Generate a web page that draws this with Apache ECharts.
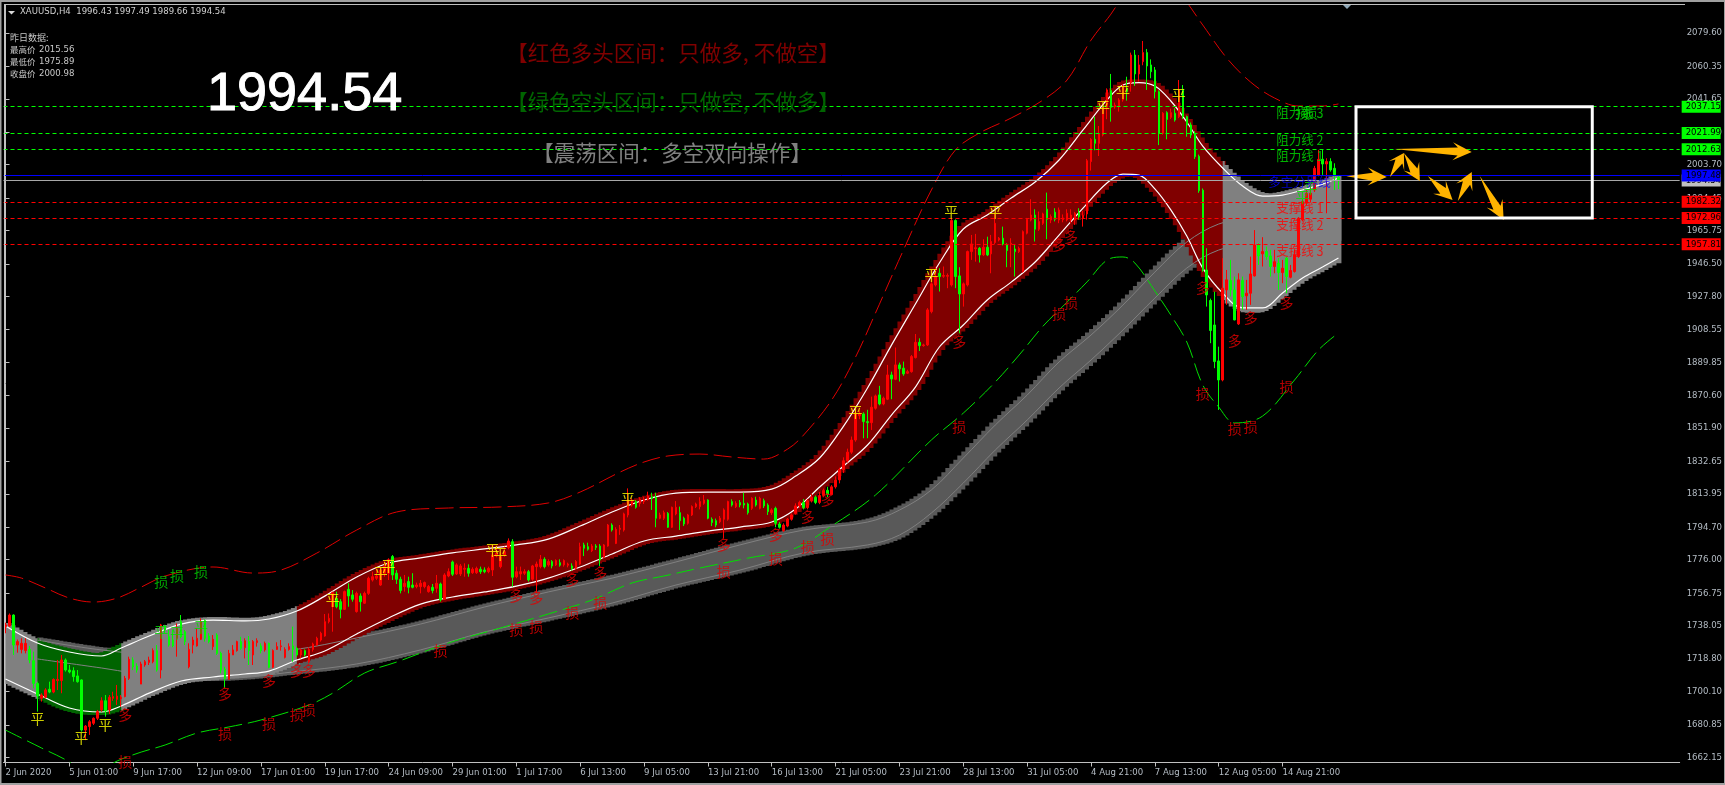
<!DOCTYPE html>
<html><head><meta charset="utf-8">
<style>html,body{margin:0;padding:0;background:#000}#c{width:1725px;height:785px}</style>
<script src="https://cdn.jsdelivr.net/npm/echarts@6/dist/echarts.min.js"></script>
</head><body><div id="c"></div>
<script>
// [open, close, low, high]
const ohlc = [
[1737.4,1738.4,1733.6,1739.7],[1737.8,1744.1,1737.4,1745],[1744.1,1726.8,1721.1,1744.5],[1726.8,1728.8,1722.4,1730],[1724.3,1727.8,1722,1730.7],[1723.6,1727.8,1722,1730.7],[1724.3,1718.2,1716.3,1726.3],[1717.8,1704.7,1701.9,1723],[1704.7,1697.4,1688.4,1705.7],[1696.1,1698,1694.2,1699],
[1696.7,1700.9,1696.1,1701.9],[1701.3,1699.7,1699,1705.7],[1699.7,1707,1699,1707.6],[1706.3,1707,1700.9,1718.2],[1706.3,1718.2,1699,1721.1],[1718.2,1712.4,1711.5,1719.1],[1712.4,1711.3,1710.5,1715.3],[1712,1708.6,1705.7,1714],[1709,1705.7,1705.1,1712.4],[1706.7,1677.8,1676.9,1707],
[1677.8,1680.1,1672,1680.7],[1679.8,1682.6,1675,1683.6],[1681.7,1684.6,1680.7,1685.1],[1684.6,1688.4,1683.6,1689.4],[1689.4,1694.7,1688.4,1696.7],[1694.7,1688.8,1685.5,1698],[1689.4,1696.7,1687.1,1698],[1696.1,1697.1,1694.7,1699.9],[1695.5,1697.4,1692.3,1703.8],[1695.9,1696.7,1691.3,1698],
[1697.1,1707.6,1696.7,1709],[1707.6,1718.6,1706.7,1720.1],[1718.2,1714.3,1712.4,1719.7],[1714.7,1712.4,1710.9,1716.3],[1704.3,1715.9,1704.3,1717.2],[1715.3,1717.2,1714.3,1718.2],[1716.8,1718.2,1715.3,1720.1],[1717.2,1723.6,1716.3,1724.9],[1723.6,1712.4,1711.5,1726.8],[1712.4,1738.4,1707.6,1739],
[1737.8,1735.5,1733.6,1738.4],[1731.6,1726.8,1725.9,1735.5],[1729.7,1726.3,1725.5,1735.5],[1730.7,1736.4,1720.1,1739.3],[1740.3,1731.6,1730.7,1744.1],[1734.5,1728.8,1726.8,1735.5],[1714.3,1724.3,1713.4,1727.8],[1726.8,1729.7,1722,1731.6],[1726.3,1730.7,1725.9,1736.4],[1730.1,1740.3,1729.7,1742.2],
[1740.9,1730.7,1728.8,1741.6],[1732,1728.8,1727.8,1733.6],[1725.9,1730.1,1724,1732.6],[1732.6,1722,1721.1,1733.6],[1722,1712.4,1710.5,1723],[1712.8,1707.6,1701.9,1714.3],[1707,1722,1706.7,1724],[1721.1,1724,1721.1,1726.8],[1723.6,1728.8,1723,1729.3],[1728.8,1724.9,1724,1731.6],
[1725.3,1729.3,1719.1,1730.7],[1728.8,1723.6,1715.3,1732],[1721.1,1728.8,1715.3,1729.7],[1728.2,1729.3,1725.9,1730.7],[1726.3,1723.6,1722,1727.8],[1724,1727.8,1723,1728.8],[1727.8,1714,1713.4,1728.2],[1714,1723.6,1713.4,1724.3],[1724.3,1725.9,1724,1728.4],[1725.9,1726.3,1723.6,1729.7],
[1719.7,1724.3,1719.1,1725.5],[1724.3,1725.9,1723.6,1727.8],[1726.3,1724.3,1717.2,1737.4],[1724.9,1721.1,1720.1,1725.9],[1721.1,1724,1719.1,1724.9],[1723.6,1721.1,1720.1,1724.3],[1717.2,1724.3,1716.3,1725.5],[1724.3,1727.4,1723,1728.2],[1726.8,1730.7,1726.3,1731.6],[1729.7,1733.6,1728.8,1734.5],
[1732,1740.3,1731.6,1744.7],[1740.3,1742.2,1739.3,1745],[1748.9,1757,1734.5,1757.6],[1753.7,1748.9,1748,1757.6],[1751.8,1747.4,1742.2,1753.3],[1747.4,1757.6,1747,1758.2],[1758.9,1755.1,1748.9,1762.4],[1755.7,1753.2,1751.8,1758.5],[1746.1,1756.6,1745.5,1757.6],[1755.1,1751.8,1746.1,1756.6],
[1750.9,1756.6,1750.5,1757.6],[1756.6,1765.3,1755.7,1766.2],[1764.3,1766.2,1763.4,1769.1],[1765.3,1766.6,1764.3,1771],[1761.4,1770,1760.9,1772],[1768.2,1772,1766.2,1775],[1768.2,1775.8,1764.3,1776.8],[1777.8,1767.2,1764.3,1778.7],[1768.2,1764.7,1762,1770],[1764.7,1758.2,1756.6,1766.2],
[1760.5,1762.4,1757.6,1767.2],[1763.4,1760.1,1756.6,1766.2],[1761.4,1760.1,1759.5,1768.2],[1760.5,1761.4,1759.5,1762.8],[1760.5,1762.4,1756.6,1764.3],[1760.5,1762.8,1759.5,1763.4],[1757.6,1760.5,1757,1761.4],[1760.1,1758.2,1756.6,1762],[1759.5,1762.4,1757,1767.2],[1762,1752.8,1751.8,1762.8],
[1753.2,1767.2,1752.8,1768.2],[1766.6,1769.1,1765.9,1771],[1774.7,1767.6,1766.6,1775.5],[1767.8,1773,1767.2,1773.9],[1767.8,1772.4,1766.6,1773.5],[1770.5,1771,1766.2,1773.9],[1771,1768.2,1766.2,1773.3],[1768.5,1770.5,1767.8,1771.6],[1768.5,1771,1767.8,1772],[1770.5,1769.1,1767.8,1772],
[1770.1,1769.1,1768.2,1771.6],[1769.1,1771,1768.2,1772],[1770.1,1778.7,1766.6,1784.5],[1778.1,1779.7,1777.4,1783.5],[1772,1777.8,1771,1780.6],[1778.7,1780.6,1777.8,1783.5],[1783.1,1786.8,1782,1788.3],[1786.4,1765.9,1760.5,1787.8],[1766.2,1769.1,1765.3,1772],[1767.8,1769.1,1764.3,1772],
[1768.2,1769.1,1767.2,1770.5],[1769.1,1764.3,1763.4,1770.1],[1764.7,1772.4,1763.9,1773],[1772,1773.5,1756.6,1774.9],[1772,1776.2,1771,1778.7],[1776.2,1772,1771,1777.4],[1773,1774.9,1772,1776.2],[1774.9,1772.4,1771,1775.8],[1773,1775.5,1772.4,1776.2],[1774.3,1772.8,1772,1776.2],
[1773,1775.5,1772,1776.2],[1772.8,1773.5,1771.6,1774.3],[1772.4,1770.9,1769.7,1773.9],[1771,1774.9,1770.1,1775.8],[1773.5,1783.5,1773,1785.8],[1784.5,1782.6,1778.1,1785.8],[1783.5,1782,1781.2,1785.8],[1781.2,1783.9,1780.4,1785],[1783.9,1783.1,1781.6,1785],[1783.9,1775.8,1772.4,1785],
[1777.4,1784.5,1776.8,1785],[1783.9,1796,1783.5,1796.6],[1796,1793.1,1792.2,1797],[1785.4,1793.5,1785,1794.7],[1793.5,1794.1,1790.3,1796],[1793.1,1802.4,1792.2,1803.1],[1801.8,1810.4,1800.4,1817.1],[1807.5,1810,1806.6,1811.4],[1809.5,1806.2,1805.4,1810.4],[1808.5,1810.8,1806.6,1812],
[1809.5,1810.8,1808.1,1812.3],[1810.8,1812.7,1810,1815.2],[1812.3,1811.4,1804.7,1814.6],[1812,1799.9,1794.7,1814.6],[1799.9,1801.8,1799.3,1803.1],[1799.9,1803.1,1798.9,1804.3],[1802.7,1794.7,1794.3,1803.5],[1794.7,1806.2,1794.3,1806.6],[1802.4,1806.2,1801.6,1809.8],[1803.1,1798.5,1793.1,1806.6],
[1799.9,1796.6,1795.4,1800.8],[1797,1801.8,1796.2,1802.4],[1801.8,1806.6,1801.2,1807.3],[1806.6,1808.1,1805.8,1808.9],[1806.6,1809.5,1805,1812],[1808.5,1810.4,1807.7,1813.3],[1810.4,1799.9,1799.3,1810.8],[1799.3,1797.4,1795.4,1800.4],[1798.5,1796,1794.7,1799.7],[1797.9,1799.9,1797,1801.2],
[1799.3,1804.7,1788.3,1805.6],[1799.3,1809.5,1798.5,1810],[1809.5,1807.5,1806.6,1810.8],[1806.6,1808.5,1805.8,1809.7],[1808.9,1807.5,1806.2,1810.4],[1808.5,1807.5,1805.6,1814.6],[1808.1,1803.1,1802,1808.9],[1805.6,1811.4,1804.7,1812],[1810.4,1807.5,1806.6,1812.3],[1805.6,1811.4,1805,1812.3],
[1810,1807,1805.8,1811.2],[1807.5,1803.7,1801.8,1808.5],[1803.1,1804.7,1801.8,1805.6],[1805.6,1797,1794.7,1806.6],[1796.6,1794.7,1793.9,1797.7],[1792.8,1796,1792,1797],[1795.4,1799.3,1794.7,1800],[1799.3,1801.8,1798.5,1802.7],[1802.7,1807,1802,1808.5],[1807,1809,1806,1810],
[1809,1806,1805,1811],[1806,1810,1805,1811],[1810,1812,1809,1814],[1812,1809,1808,1813],[1809,1813,1808,1815],[1813,1816,1812,1817],[1816,1813.5,1812,1818],[1813.5,1818,1813,1819],[1818,1822,1817,1824],[1822,1828,1820,1829],
[1828,1833,1826,1835],[1833,1838,1832,1840],[1838,1845,1837,1847],[1845,1860.4,1844,1862],[1859,1860,1857,1862],[1860,1855.6,1846,1861],[1855.6,1855,1846,1862.4],[1855,1863.9,1850.8,1870],[1863.3,1870.4,1862.5,1871.2],[1871,1865.8,1865,1876.2],
[1865.8,1869.1,1865,1870],[1868.5,1882.5,1868,1888.3],[1882.5,1880.2,1868.5,1884.4],[1880,1888.3,1879.5,1898.3],[1888.3,1886,1878.7,1889.6],[1886.4,1883.1,1882,1890.2],[1883.5,1884.4,1883,1885.5],[1884.4,1893.1,1883.8,1894],[1892.5,1901.3,1892,1906.1],[1901.3,1899.4,1896.3,1903.6],
[1899.4,1899.8,1898.8,1900.5],[1899.8,1920,1899.2,1921],[1919,1935,1918,1936],[1934.4,1939.2,1933.5,1944.6],[1941.1,1939.2,1930.6,1944],[1939.4,1939.8,1938.5,1945],[1939.4,1939.8,1932.5,1941],[1934.4,1971.5,1933.5,1973],[1971.5,1939.2,1932.5,1972.2],[1939.6,1929.2,1906.5,1944.6],
[1929.2,1935,1921.9,1935.8],[1934.4,1953.6,1933.5,1954.2],[1953.6,1958,1948.8,1963.2],[1955.3,1955.8,1947.8,1963.8],[1955.5,1951.7,1947.3,1956.2],[1951.7,1956.1,1951,1960.7],[1956.1,1951.7,1951,1962.2],[1952.3,1959.4,1941.1,1963.2],[1958.8,1969.9,1958,1975.7],[1960.3,1961.3,1959.5,1962],
[1961.3,1958,1957.2,1968],[1957.4,1954.2,1944.6,1958.4],[1958,1958.4,1944.6,1961.3],[1955.1,1953.6,1939.2,1958],[1953.6,1955.5,1952.8,1956.5],[1942.1,1965.1,1941.5,1965.8],[1964.2,1972.2,1963.5,1973],[1971.8,1974.7,1971,1983.8],[1974.7,1966.5,1959.4,1978],[1966.5,1970.9,1965.5,1976.7],
[1969.9,1975.3,1969,1976],[1978,1972.2,1960.7,1987.6],[1971.8,1973.8,1970,1975],[1976.3,1972.2,1971,1978.6],[1971.8,1977.6,1970,1979],[1972,1973,1970.5,1975],[1971.8,1975.7,1971,1978],[1971.8,1974.7,1970,1978],[1971.8,1975.7,1969,1976.5],[1976,1973.8,1972,1978.6],
[1973,1974.5,1968,1977],[1975.3,2006,1972,2007],[2005.5,2018.3,2000.3,2019],[2018.3,2016,2012,2031.4],[2016,2021.4,2008.7,2026],[2020.8,2036.8,2020,2037.5],[2036.8,2046.8,2029.9,2047.7],[2046.4,2036.8,2028.5,2056],[2037,2038,2036,2039.5],[2037.1,2041,2034.3,2042],
[2041,2048.7,2040,2050],[2047.7,2045.8,2040.6,2054.4],[2051,2066.9,2045.8,2068.3],[2066.9,2056,2049.1,2069.8],[2056,2061.2,2051.6,2066.9],[2063.1,2068.3,2061,2075],[2068.3,2060.6,2046.8,2070.4],[2061.2,2057.3,2053.5,2064.4],[2058.3,2045.8,2041.9,2060],[2045.8,2021.8,2015,2046.5],
[2021.8,2033.3,2021,2034],[2033.7,2029.8,2018.3,2034.5],[2031,2033.7,2030,2036],[2033.3,2029.4,2028.5,2036.2],[2031.4,2046.7,2030.5,2052.5],[2047.1,2031.4,2030,2049.6],[2031.4,2026.6,2019.8,2032],[2026.6,2020.8,2019,2028],[2021.8,2008.3,2007,2023],[2008.5,1988.7,1987.5,2009.5],
[1989,1943,1942,1990],[1943,1928.6,1921.9,1955.5],[1925.4,1908.1,1900.8,1926.5],[1911.3,1890.2,1886.4,1930.5],[1890.6,1879.6,1862.3,1898.8],[1879.6,1932.5,1878.8,1949.8],[1931.5,1937.3,1922.9,1943],[1936.9,1931.5,1927.7,1948.8],[1931.5,1914.2,1914,1939.2],[1911.9,1937.3,1911.3,1941.1],
[1936.9,1927.7,1920,1939.2],[1928.1,1929.6,1920,1937.3],[1929.6,1940.7,1922.9,1950.7],[1939.6,1957.4,1939.2,1966],[1957.4,1951.1,1945.9,1958.4],[1952.3,1953.6,1945,1961.9],[1953.6,1950.7,1948.8,1956.5],[1951.1,1945,1939.2,1954.6],[1945,1947.8,1941.1,1954.6],[1946.9,1941.5,1931.5,1949.8],
[1941.5,1944,1935.4,1948.8],[1949.8,1939.2,1929.6,1950.7],[1938.8,1942.7,1938.2,1945.9],[1942.1,1951.7,1941.5,1954.6],[1950.7,1972.8,1950,1973.5],[1971.9,1982.4,1971,1983.5],[1981.5,1987.2,1980,1989],[1983.8,1987.2,1982,1995],[1989.1,2001.6,1988,2003],[1997.8,2006.8,1997,2012.2],
[2006.8,2004.1,1997.8,2012.2],[2004.1,2005.5,1975.7,2007.4],[2005.5,2000.7,1999.7,2007.4],[2001.6,1997.8,1989.1,2004.5],[1996.43,1994.54,1989.66,1997.49]
];
const totalSlots = 420;
const dateLabels = ['2 Jun 2020','5 Jun 01:00','9 Jun 17:00','12 Jun 09:00','17 Jun 01:00','19 Jun 17:00','24 Jun 09:00','29 Jun 01:00','1 Jul 17:00','6 Jul 13:00','9 Jul 05:00','13 Jul 21:00','16 Jul 13:00','21 Jul 05:00','23 Jul 21:00','28 Jul 13:00','31 Jul 05:00','4 Aug 21:00','7 Aug 13:00','12 Aug 05:00','14 Aug 21:00'];
const priceTicks = [2079.60,2060.35,2041.65,2022.40,2003.70,1984.45,1965.75,1946.50,1927.80,1908.55,1889.85,1870.60,1851.90,1832.65,1813.95,1794.70,1776.00,1756.75,1738.05,1718.80,1700.10,1680.85,1662.15];

const fastBars  = [0,8,16,24,29,36,44,52,60,66,73,80,88,96,104,112,120,128,136,144,152,160,168,176,184,192,198,204,210,216,222,228,234,240,246,252,258,264,270,276,280,284,288,292,296,300,305,310,315,320,325,330,334];
const fastUpper = [1737.8,1728,1722.8,1720.5,1725.1,1732,1738.9,1741.2,1740.7,1741.8,1746.4,1755,1766,1774.1,1777,1779.9,1782.2,1784.5,1787.9,1795.4,1803.5,1810.4,1814.4,1815,1815,1816.7,1824.2,1834.6,1853,1875,1899.7,1923.4,1947,1966.6,1974.7,1984.5,1993.7,2006.4,2023.7,2041,2049.6,2051,2049,2040.4,2028.3,2014.4,2001.8,1991.4,1985.6,1986.2,1989.1,1992.5,1996];
const fastLower = [1707.2,1698.6,1690.5,1688.2,1691.7,1699.1,1706.1,1708.4,1710.1,1711.8,1718.2,1723.4,1733.2,1742.4,1750.4,1754.5,1757.4,1760.8,1765.4,1771.8,1779.3,1786.8,1789.6,1792.5,1794.8,1797.7,1805.2,1817.9,1830,1842.1,1859.4,1875.5,1898.6,1911.3,1925.7,1936,1947.6,1963.1,1978.7,1993.1,1998.3,1997.7,1989.7,1977.6,1962.6,1944.1,1929.7,1921.1,1921.1,1929.7,1938.4,1944.7,1949.9];
const regimeStart = [0,8,29,73,305];
const regimeEnd   = [8,29,73,305,334];
const regimeColor = ['#808080','#006400','#808080','#800000','#808080'];

const slowBars  = [8,24,40,56,72,88,104,120,136,152,168,184,200,216,224,232,240,248,256,264,272,280,288,296,304,312,334];
const slowUpper = [1729.7,1724,1721.1,1721.1,1724,1730.9,1738.9,1748.7,1757.4,1765.4,1774.7,1784.5,1793.1,1797.7,1804.6,1816.2,1834.6,1853.6,1870.9,1890,1905.5,1922.8,1941.8,1959.1,1969.5,1973,1976.4];
const slowLower = [1718.8,1713.6,1708.4,1707.8,1711.3,1715.9,1724,1734.3,1742.4,1751,1761.4,1770,1779.9,1784.5,1790.2,1802.9,1820.2,1839.2,1856.5,1875,1891.1,1908.4,1926.8,1944.1,1954.5,1957.4,1961.4];

const redEnvelope = [[0,1767.2],[4,1765.4],[10,1759.7],[16,1753.9],[22,1751.6],[28,1753.9],[34,1760.2],[40,1766.6],[52,1771.8],[62,1768.3],[69,1770],[78,1779.8],[88,1793.1],[98,1803.5],[111,1805.8],[124,1806.4],[136,1808.7],[144,1815],[154,1826.5],[160,1832.3],[166,1835.8],[174,1836.9],[182,1835.2],[190,1834],[196,1839.8],[200,1847.9],[207,1868],[213,1892.8],[218,1918.2],[225,1954.5],[232,1989.1],[238,2012.1],[244,2021.9],[252,2030.6],[260,2041],[266,2052.5],[272,2075.5],[277,2090.5],[282,2107.2],[288,2115.9],[294,2103.2],[300,2084.2],[306,2065.2],[312,2051.3],[318,2042.1],[324,2037.5],[330,2037.5],[334,2038.7]];
const greenEnvelope = [[0,1677.8],[4,1673.2],[9,1667.5],[16,1659.4],[20,1651.9],[25,1655.9],[28,1660],[34,1665.1],[40,1669.2],[48,1676.1],[56,1679.6],[64,1683.6],[76,1692.2],[82,1699.1],[90,1710.7],[98,1717],[111,1728],[124,1736.6],[136,1744.7],[147,1752.8],[157,1762.6],[165,1766.6],[174,1771.2],[186,1776.9],[198,1782.7],[207,1795.4],[218,1813.3],[232,1845],[240,1860.5],[248,1878.4],[254,1894],[260,1910.7],[264,1919.9],[271,1936.1],[276,1948.7],[280,1950.5],[283,1947],[288,1930.9],[292,1917],[296,1901.5],[300,1876.7],[304,1864],[308,1854.8],[315,1858.8],[323,1879.6],[329,1896.9],[334,1906.7]];

const pingYellow = [[8,1684.2],[19,1673.2],[25,1680.7],[82,1752.8],[94,1768.3],[96,1772.4],[122,1781.6],[124,1779.3],[156,1811],[213,1861.1],[232,1940],[237,1976.4],[248,1976.4],[275,2036.9],[280,2045.6],[294,2043.8]];
const pingGreen  = [[39,1734.3],[43,1733.7],[49,1737.2],[325,1985],[327,1990.2]];
const duoRed     = [[30,1686.5],[55,1698.6],[66,1706.1],[73,1711.8],[76,1711.8],[128,1755.1],[133,1753.9],[142,1764.3],[149,1768.3],[180,1784.5],[193,1790.2],[201,1800.6],[206,1810.4],[239,1901.5],[264,1957.4],[267,1962],[300,1932.6],[308,1902],[312,1915.3],[321,1924]];
const sunRed     = [[30,1659.4],[55,1675.5],[66,1681.3],[73,1686.5],[76,1689.4],[109,1723.4],[128,1735.5],[133,1737.2],[142,1745.3],[149,1751],[180,1768.9],[193,1776.4],[201,1783.3],[206,1787.9],[239,1852.5],[264,1917.6],[267,1924],[300,1871.5],[308,1851.3],[312,1852.5],[321,1875.5]];
const sunGreen   = [[39,1763.1],[43,1766.6],[49,1768.9],[325,2033.5],[327,2033.5]];

const levelValues = [1994.54,1997.48,2037.15,2021.99,2012.63,1982.32,1972.96,1957.81];
const levelColors = ['#a8a8a8','#0000ff','#00ff00','#00ff00','#00ff00','#ff0000','#ff0000','#ff0000'];
const levelBadge  = ['#c0c0c0','#0000ff','#00ff00','#00ff00','#00ff00','#ff0000','#ff0000','#ff0000'];
const levelSolid  = [true,true,false,false,false,false,false,false];

const levelText  = ['阻力线 3','阻力线 2','阻力线 1','多空分界线','支撑线 1','支撑线 2','支撑线 3'];
const levelTextBar = [318.4,318.4,318.4,316.4,318.4,318.4,318.4];
const levelTextPrice = [2033.5,2017.9,2008.7,1993.7,1978.7,1968.9,1953.9];
const levelTextColor = ['#00e000','#00e000','#00e000','#0000ff','#ff0000','#ff0000','#ff0000'];

// forecast arrows: from bar, from price, to bar, to price
const arrowFromBar = [336,346.9,350.4,347.9,356.4,363.9,369.4];
const arrowFromPrice = [1997.1,1996.6,2010.4,2012.7,1997.2,1982.7,1997.2];
const arrowToBar = [346.1,350.4,354.4,367.4,362.6,367.4,375.4];
const arrowToPrice = [1996.6,2010.4,1994.3,2011,1983.3,1999.5,1971.8];
const boxBars = [338.4,397.6];
const boxPrices = [2037.15,1972.96];

const yesterdayLabels = ['最高价','最低价','收盘价'];
const yesterdayValues = ['2015.56','1975.89','2000.98'];

const NARROW = '"DejaVu Sans Condensed","Liberation Sans",sans-serif';
const CJK = '"Noto Sans CJK SC",sans-serif';
const chart = echarts.init(document.getElementById('c'), null, {renderer:'canvas'});

// Smooth curve through the readings, evaluated per bar column in pixel space, so fills step like the platform's histogram.
function curveAt(bars, ys){
  const n=bars.length, m=ys.map((y,k)=>{
    const a=Math.max(0,k-1), b=Math.min(n-1,k+1);
    return (ys[b]-ys[a])/(bars[b]-bars[a]);
  });
  return function(x){
    let k=0; while(k<n-2 && x>bars[k+1]) k++;
    const h=bars[k+1]-bars[k], t=(x-bars[k])/h, t2=t*t, t3=t2*t;
    return (2*t3-3*t2+1)*ys[k]+(t3-2*t2+t)*h*m[k]+(-2*t3+3*t2)*ys[k+1]+(t3-t2)*h*m[k+1];
  };
}
function bandFill(bars, upper, lower, pad, colorOf){
  return function(params, api){
    const s = api.value(0), e = api.value(1);
    const yu=upper.map((v,k)=>api.coord([bars[k],v])[1]), yl=lower.map((v,k)=>api.coord([bars[k],v])[1]);
    const fu=curveAt(bars,yu), fl=curveAt(bars,yl);
    const cx=b=>api.coord([b,upper[0]])[0];
    const top=[], bot=[];
    const lo=bars[0], hi=bars[bars.length-1];
    for(let b=s;b<=e;b++){
      const L=b===s?cx(b):cx(b-.5), R=b===e?cx(b)+3:cx(b+.5);
      const nb=[Math.max(lo,b-1),b,Math.min(hi,b+1)];
      const t=Math.min(...nb.map(fu))-pad, u=Math.max(...nb.map(fl))+pad;
      top.push([L,t],[R,t]); bot.unshift([R,u],[L,u]);
    }
    return {type:'polygon',shape:{points:top.concat(bot)},style:{fill:colorOf(params.dataIndex)},silent:true};
  };
}
function renderArrow(params, api){
  const a = api.coord([api.value(0),api.value(1)]), b = api.coord([api.value(2),api.value(3)]);
  const dx=b[0]-a[0], dy=b[1]-a[1], L=Math.hypot(dx,dy), ux=dx/L, uy=dy/L, nx=-uy, ny=ux;
  const at=(d,w)=>[a[0]+ux*d+nx*w, a[1]+uy*d+ny*w];
  const h=Math.min(18,L*0.5);
  return {type:'polygon',shape:{points:[a,at(L-h+4,4),at(L-h-1,9),b,at(L-h-1,-9),at(L-h+4,-4)]},style:{fill:'#ffb400'},silent:true};
}
function renderBox(params, api){
  const a=api.coord([api.value(0),api.value(2)]), b=api.coord([api.value(1),api.value(3)]);
  return {type:'rect',shape:{x:a[0],y:a[1],width:b[0]-a[0],height:b[1]-a[1]},style:{fill:'none',stroke:'#fff',lineWidth:3},silent:true};
}
function lineS(data,color,width,z,type){
  return {type:'line',xAxisIndex:1,data,showSymbol:false,symbol:'none',z,silent:true,clip:true,smooth:0.35,
    lineStyle:{color,width,type:type||'solid'}};
}
const zip=(b,v)=>b.map((x,i)=>[x,v[i]]);
function glyphs(data,text,color,size){
  return {type:'scatter',xAxisIndex:1,data,symbolSize:0,z:7,silent:true,
    label:{show:true,position:'inside',formatter:text,color,fontSize:size||13,fontFamily:CJK}};
}

const option = {
  backgroundColor:'#000',animation:false,
  grid:{left:3.5,top:4.5,right:40,bottom:22.5,show:false},
  xAxis:[
    {type:'category',data:Array.from({length:totalSlots},(_,i)=>String(i)),show:false,boundaryGap:true},
    {type:'value',min:-0.5,max:totalSlots-0.5,position:'bottom',splitLine:{show:false},
     axisLine:{show:true,lineStyle:{color:'#c0c0c0',width:1}},
     axisTick:{show:true,length:4,lineStyle:{color:'#c0c0c0'},customValues:dateLabels.map((_,i)=>i*16)},
     axisLabel:{show:true,customValues:dateLabels.map((_,i)=>i*16),formatter:v=>dateLabels[Math.round(v/16)],
       align:'left',color:'#b4bcc4',fontFamily:NARROW,fontSize:9.5,margin:5,hideOverlap:false,showMinLabel:true,showMaxLabel:true}}
  ],
  yAxis:{type:'value',position:'right',min:1659.1,max:2096.03,scale:true,splitLine:{show:false},
    axisLine:{show:true,lineStyle:{color:'#c0c0c0',width:1}},
    axisTick:{show:true,length:4,lineStyle:{color:'#c0c0c0'},customValues:priceTicks},
    axisLabel:{show:true,customValues:priceTicks,formatter:v=>v.toFixed(2),color:'#b4bcc4',fontFamily:NARROW,fontSize:9.5,margin:7,hideOverlap:false,showMinLabel:true,showMaxLabel:true}},
  series:[
    {type:'custom',xAxisIndex:1,z:1,clip:true,silent:true,encode:{x:0,y:1},data:[[8,334]],
     renderItem:bandFill(slowBars,slowUpper,slowLower,2.5,()=>'#595959')},
    {type:'custom',xAxisIndex:1,z:2,clip:true,silent:true,encode:{x:0,y:1},data:zip(regimeStart,regimeEnd),
     renderItem:bandFill(fastBars,fastUpper,fastLower,3,i=>regimeColor[i])},
    lineS(zip(slowBars,slowUpper),'#808080',1,3),
    lineS(zip(slowBars,slowLower),'#808080',1,3),
    lineS(zip(fastBars,fastUpper),'#ffffff',1.2,4),
    lineS(zip(fastBars,fastLower),'#ffffff',1.2,4),
    lineS(redEnvelope,'#e00000',1,3,[18,6]),
    lineS(greenEnvelope,'#00e000',1,3,[18,6]),
    {type:'candlestick',xAxisIndex:0,data:ohlc,z:5,barWidth:2,silent:true,
     itemStyle:{color:'#ff0000',color0:'#00ff00',borderColor:'#ff0000',borderColor0:'#00ff00',borderWidth:1}},
    {type:'line',xAxisIndex:1,data:[],z:6,silent:true,
     markLine:{symbol:'none',silent:true,z:6,animation:false,
       data:levelValues.map((v,i)=>({yAxis:v,
         lineStyle:{color:levelColors[i],width:1,type:levelSolid[i]?'solid':[4,3]},
         label:{show:true,position:'end',distance:2,formatter:v.toFixed(2),backgroundColor:levelBadge[i],color:'#000',
           fontFamily:NARROW,fontSize:9.5,lineHeight:11,padding:[1,2,0,4],width:33,align:'left'}}))}},
    glyphs(pingYellow,'平','#ffff00',14),
    glyphs(pingGreen,'平','#00e000',14),
    glyphs(duoRed,'多','#e00000',14),
    glyphs(sunRed,'损','#e00000',14),
    glyphs(sunGreen,'损','#00d000',14),
    {type:'scatter',xAxisIndex:1,symbolSize:0,z:7,silent:true,
     data:levelText.map((t,i)=>({value:[levelTextBar[i],levelTextPrice[i]],
       label:{show:true,position:'right',distance:0,formatter:t,color:levelTextColor[i],fontFamily:CJK,fontSize:12.5}}))},
    {type:'custom',xAxisIndex:1,z:8,clip:false,silent:true,encode:{x:0,y:1},
     data:arrowFromBar.map((b,i)=>[b,arrowFromPrice[i],arrowToBar[i],arrowToPrice[i]]),renderItem:renderArrow},
    {type:'custom',xAxisIndex:1,z:8,clip:false,silent:true,encode:{x:0,y:2},
     data:[[boxBars[0],boxBars[1],boxPrices[0],boxPrices[1]]],renderItem:renderBox}
  ],
  graphic:[
    {type:'rect',silent:true,z:100,shape:{x:0,y:0,width:1725,height:2},style:{fill:'#a0a0a0'}},
    {type:'rect',silent:true,z:100,shape:{x:0,y:0,width:1.5,height:785},style:{fill:'#a0a0a0'}},
    {type:'rect',silent:true,z:100,shape:{x:0,y:783,width:1725,height:2},style:{fill:'#a0a0a0'}},
    {type:'rect',silent:true,z:100,shape:{x:1724,y:0,width:1,height:785},style:{fill:'#a0a0a0'}},
    {type:'rect',silent:true,z:100,shape:{x:4,y:4,width:1681,height:1},style:{fill:'#c0c0c0'}},
    {type:'rect',silent:true,z:100,shape:{x:4,y:4,width:1,height:759},style:{fill:'#c0c0c0'}},
    {type:'polygon',silent:true,z:100,shape:{points:[[8,11],[15,11],[11.5,14.5]]},style:{fill:'#d8d8d8'}},
    {type:'polygon',silent:true,z:100,shape:{points:[[1343,5],[1351,5],[1347,9]]},style:{fill:'#8fa8b8'}},
    {type:'text',silent:true,z:100,x:20,y:12,style:{text:'XAUUSD,H4  1996.43 1997.49 1989.66 1994.54',fill:'#d0d0d0',font:'9.5px '+NARROW,textVerticalAlign:'middle'}},
    {type:'text',silent:true,z:100,x:10,y:37.5,style:{text:'昨日数据:',fill:'#c8c8c8',font:'9px '+CJK,textVerticalAlign:'middle'}},
    ...yesterdayLabels.map((t,i)=>({type:'text',silent:true,z:100,x:10,y:50+12*i,style:{text:t,fill:'#c8c8c8',font:'8.5px '+CJK,textVerticalAlign:'middle'}})),
    ...yesterdayValues.map((t,i)=>({type:'text',silent:true,z:100,x:39,y:50+12*i,style:{text:t,fill:'#c8c8c8',font:'9.5px '+NARROW,textVerticalAlign:'middle'}})),
    {type:'text',silent:true,z:100,x:207,y:95,style:{text:'1994.54',fill:'#fff',stroke:'#fff',lineWidth:1,font:'54px "Liberation Sans",sans-serif',textVerticalAlign:'middle'}},
    {type:'text',silent:true,z:100,x:673,y:53,style:{text:'【红色多头区间：只做多, 不做空】',fill:'#800000',font:'21.5px '+CJK,textAlign:'center',textVerticalAlign:'middle'}},
    {type:'text',silent:true,z:100,x:673,y:102,style:{text:'【绿色空头区间：只做空, 不做多】',fill:'#006400',font:'21.5px '+CJK,textAlign:'center',textVerticalAlign:'middle'}},
    {type:'text',silent:true,z:100,x:672,y:153,style:{text:'【震荡区间：多空双向操作】',fill:'#808080',font:'21.5px '+CJK,textAlign:'center',textVerticalAlign:'middle'}}
  ]
};
chart.setOption(option);
</script></body></html>
